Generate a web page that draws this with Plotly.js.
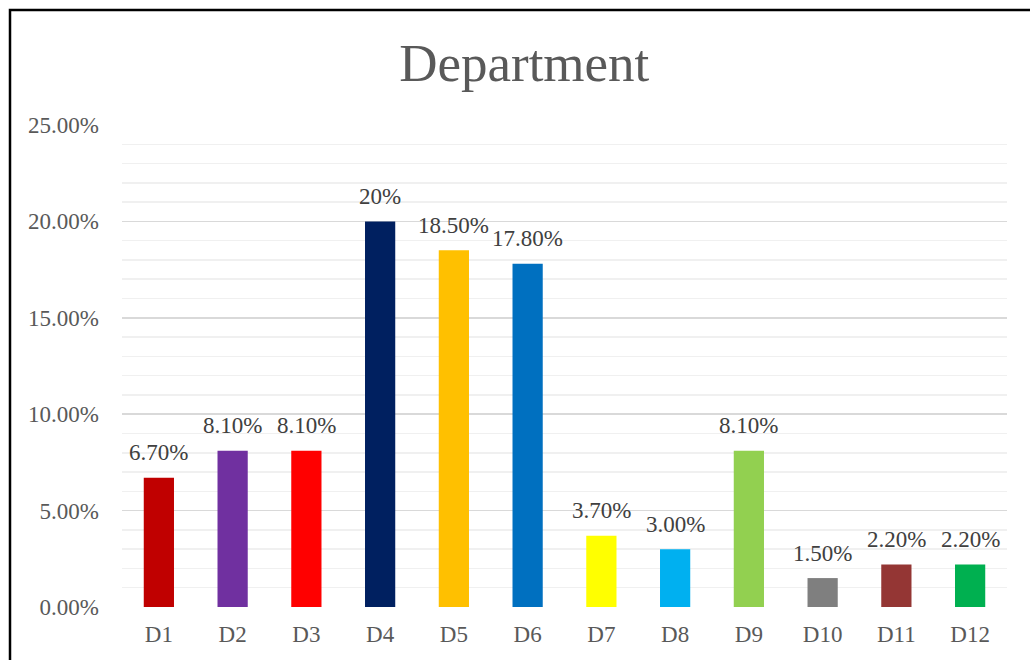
<!DOCTYPE html>
<html>
<head>
<meta charset="utf-8">
<script src="https://cdn.plot.ly/plotly-3.0.1.min.js"></script>
<style>
  html, body { margin: 0; padding: 0; background: #fff; }
  #chart { width: 1030px; height: 660px; }
</style>
</head>
<body>
<div id="chart"></div>
<script>
// Share of staff by department
const departments = ["D1", "D2", "D3", "D4", "D5", "D6", "D7", "D8", "D9", "D10", "D11", "D12"];
const shares = [0.067, 0.081, 0.081, 0.20, 0.185, 0.178, 0.037, 0.030, 0.081, 0.015, 0.022, 0.022];
const shareLabels = ["6.70%", "8.10%", "8.10%", "20%", "18.50%", "17.80%", "3.70%", "3.00%", "8.10%", "1.50%", "2.20%", "2.20%"];
const barColors = ["#C00000", "#7030A0", "#FF0000", "#002060", "#FFC000", "#0070C0",
                   "#FFFF00", "#00B0F0", "#92D050", "#7F7F7F", "#943634", "#00B050"];

const serif = "'Liberation Serif', 'Times New Roman', serif";

const trace = {
  type: "bar",
  x: departments,
  y: shares,
  marker: { color: barColors },
  hoverinfo: "x+y"
};

// value labels sitting above each bar
const valueLabels = departments.map((d, i) => ({
  x: d,
  y: shares[i],
  xref: "x",
  yref: "y",
  text: shareLabels[i],
  showarrow: false,
  yanchor: "middle",
  yshift: 25,
  font: { family: serif, size: 23, color: "#404040" }
}));

const layout = {
  width: 1030,
  height: 660,
  margin: { l: 122, r: 23, t: 125, b: 53 },
  paper_bgcolor: "#ffffff",
  plot_bgcolor: "#ffffff",
  showlegend: false,
  bargap: 0.59,
  title: {
    text: "Department",
    font: { family: serif, size: 53, color: "#595959" },
    x: 0.509, xanchor: "center", xref: "container",
    y: 0.905, yanchor: "middle", yref: "container"
  },
  xaxis: {
    type: "category",
    showgrid: false,
    zeroline: false,
    showline: false,
    ticks: "",
    ticklabelstandoff: 11,
    tickfont: { family: serif, size: 23, color: "#595959" }
  },
  yaxis: {
    range: [0, 0.25],
    dtick: 0.05,
    tick0: 0,
    tickformat: ".2%",
    showgrid: true,
    gridcolor: "#d9d9d9",
    gridwidth: 1.5,
    zeroline: false,
    showline: false,
    ticks: "",
    ticklabelstandoff: 22,
    tickfont: { family: serif, size: 23, color: "#595959" },
    minor: { dtick: 0.01, showgrid: true, gridcolor: "#f0f0f0", gridwidth: 1.5 }
  },
  annotations: valueLabels,
  shapes: [
    // outer chart frame (runs off the right and bottom edges)
    {
      type: "rect", xref: "paper", yref: "paper",
      x0: (10 - 122) / 885, x1: 1.08,
      y0: -0.2, y1: (607 - 10) / 482,
      line: { color: "#000000", width: 2.5 },
      fillcolor: "rgba(0,0,0,0)",
      layer: "above"
    }
  ]
};

Plotly.newPlot("chart", [trace], layout, { displayModeBar: false, staticPlot: true });
</script>
</body>
</html>
